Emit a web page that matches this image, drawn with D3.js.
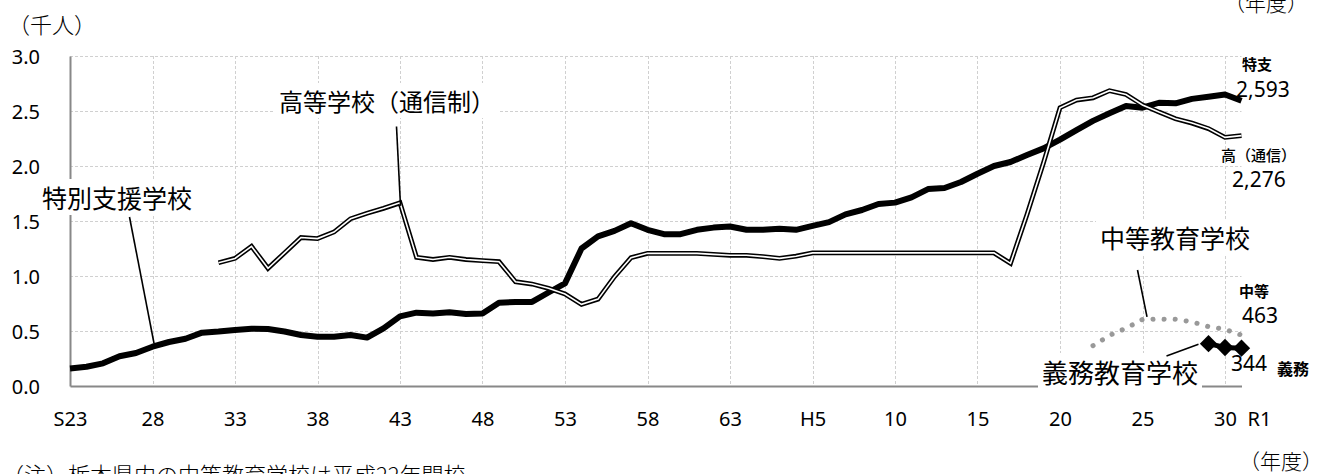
<!DOCTYPE html>
<html lang="ja">
<head>
<meta charset="utf-8">
<script src="https://cdn.jsdelivr.net/npm/d3@7/dist/d3.min.js"></script>
<style>
  html, body { margin: 0; padding: 0; background: #fff; }
  svg { display: block; }
  .num { font-family: "Noto Sans", "Open Sans", sans-serif; }
  .jp { font-family: "Noto Sans CJK JP", "Noto Sans", sans-serif; }
</style>
</head>
<body>
<svg id="chart" width="1326" height="474"></svg>
<script>
// ---------------- data ----------------
const fiscalYears = [1948,1949,1950,1951,1952,1953,1954,1955,1956,1957,1958,1959,1960,1961,1962,1963,1964,1965,1966,1967,1968,1969,1970,1971,1972,1973,1974,1975,1976,1977,1978,1979,1980,1981,1982,1983,1984,1985,1986,1987,1988,1989,1990,1991,1992,1993,1994,1995,1996,1997,1998,1999,2000,2001,2002,2003,2004,2005,2006,2007,2008,2009,2010,2011,2012,2013,2014,2015,2016,2017,2018,2019];

const xTickYears  = [1948,1953,1958,1963,1968,1973,1978,1983,1988,1993,1998,2003,2008,2013,2018,2019];
const xTickLabels = ["S23","28","33","38","43","48","53","58","63","H5","10","15","20","25","30","R1"];
const yTickValues = [0,0.5,1.0,1.5,2.0,2.5,3.0];
const yTickLabels = ["0.0","0.5","1.0","1.5","2.0","2.5","3.0"];

// 特別支援学校 (千人), S23(1948) - R1(2019)
const tokubetsuStart = 1948;
const tokubetsuValues = [0.16,0.175,0.206,0.27,0.30,0.357,0.40,0.43,0.485,0.495,0.51,0.52,0.518,0.495,0.464,0.448,0.448,0.464,0.44,0.524,0.633,0.667,0.66,0.67,0.655,0.66,0.757,0.764,0.764,0.85,0.933,1.25,1.36,1.41,1.48,1.42,1.38,1.38,1.42,1.44,1.45,1.42,1.42,1.43,1.42,1.455,1.49,1.56,1.60,1.655,1.667,1.715,1.79,1.80,1.855,1.93,2.00,2.036,2.10,2.16,2.24,2.327,2.41,2.48,2.545,2.53,2.575,2.57,2.61,2.63,2.65,2.593];

// 高等学校(通信制) (千人), S32(1957) - R1(2019)
const koukouStart = 1957;
const koukouValues = [1.12,1.16,1.27,1.07,1.21,1.35,1.34,1.40,1.52,1.57,1.615,1.665,1.17,1.15,1.17,1.15,1.14,1.13,0.948,0.927,0.888,0.836,0.742,0.79,0.994,1.167,1.206,1.206,1.206,1.206,1.197,1.188,1.188,1.176,1.16,1.18,1.21,1.21,1.21,1.21,1.21,1.21,1.21,1.21,1.21,1.21,1.21,1.21,1.115,1.56,2.03,2.53,2.60,2.62,2.685,2.65,2.555,2.49,2.43,2.39,2.34,2.26,2.276];

// 中等教育学校 (千人), H22(2010) - R1(2019)
const chutouStart = 2010;
const chutouValues = [0.366,0.46,0.525,0.605,0.607,0.606,0.583,0.54,0.515,0.463];

// 義務教育学校 (千人), H29(2017) - R1(2019)
const gimuStart = 2017;
const gimuValues = [0.385,0.35,0.344];

// ---------------- chart ----------------
const svg = d3.select("#chart");
const plotLeft = 70, plotRight = 1241.5, plotTop = 56, plotBottom = 386;

const x = d3.scaleLinear().domain([fiscalYears[0], fiscalYears[fiscalYears.length-1]]).range([plotLeft, plotRight]);
const y = d3.scaleLinear().domain([0, 3]).range([plotBottom, plotTop]);

const toPts = (start, vals) => vals.map((v, i) => ({year: fiscalYears[fiscalYears.indexOf(start) + i], value: v}));
const tokubetsu = toPts(tokubetsuStart, tokubetsuValues);
const koukou = toPts(koukouStart, koukouValues);
const chutou = toPts(chutouStart, chutouValues);
const gimu = toPts(gimuStart, gimuValues);

// gridlines
const grid = svg.append("g").attr("stroke", "#d0d0d0").attr("stroke-width", 1).attr("stroke-dasharray", "3,2");
grid.selectAll("line.h").data(yTickValues.filter(v => v > 0)).join("line").attr("class", "h")
  .attr("x1", plotLeft).attr("x2", plotRight)
  .attr("y1", d => Math.round(y(d)) + 0.5).attr("y2", d => Math.round(y(d)) + 0.5);
grid.selectAll("line.v").data(xTickYears.filter(v => v > 1948 && v < 2019)).join("line").attr("class", "v")
  .attr("x1", d => Math.round(x(d)) + 0.5).attr("x2", d => Math.round(x(d)) + 0.5)
  .attr("y1", plotTop).attr("y2", plotBottom);

// axes
const yAxis = d3.axisLeft(y).tickValues(yTickValues).tickFormat((d, i) => yTickLabels[i]).tickSize(0).tickSizeOuter(0).tickPadding(30);
const gy = svg.append("g").attr("transform", `translate(${plotLeft},0)`).call(yAxis);
gy.select(".domain").attr("stroke", "#888").attr("stroke-width", 2);
gy.selectAll("text").attr("class", "num").attr("font-size", 20).attr("fill", "#000").attr("dy", "0.36em");

const xAxis = d3.axisBottom(x).tickValues(xTickYears).tickFormat((d, i) => xTickLabels[i]).tickSize(0).tickSizeOuter(0);
const gx = svg.append("g").attr("transform", `translate(0,${plotBottom})`).call(xAxis);
gx.select(".domain").attr("stroke", "#888").attr("stroke-width", 2);
gx.selectAll("text").attr("class", "num").attr("font-size", 20).attr("fill", "#000")
  .attr("y", 33).attr("dy", "0.36em")
  .attr("dx", (d, i) => xTickLabels[i] === "R1" ? 17.5 : 0);

// lines
const line = d3.line().x(d => x(d.year)).y(d => y(d.value));

svg.append("path").datum(tokubetsu).attr("d", line)
  .attr("fill", "none").attr("stroke", "#000").attr("stroke-width", 6)
  .attr("stroke-linejoin", "round").attr("stroke-linecap", "butt");

svg.append("path").datum(chutou).attr("d", line)
  .attr("fill", "none").attr("stroke", "#999999").attr("stroke-width", 5)
  .attr("stroke-linecap", "round").attr("stroke-dasharray", "0.1,11");

svg.append("path").datum(gimu).attr("d", line)
  .attr("fill", "none").attr("stroke", "#000").attr("stroke-width", 5);
svg.selectAll("path.gimu").data(gimu).join("path").attr("class", "gimu")
  .attr("d", d3.symbol(d3.symbolSquare, 150))
  .attr("transform", d => `translate(${x(d.year)},${y(d.value)}) rotate(45)`)
  .attr("fill", "#000");

svg.append("path").datum(koukou).attr("d", line)
  .attr("fill", "none").attr("stroke", "#000").attr("stroke-width", 4.8).attr("stroke-linejoin", "miter");
svg.append("path").datum(koukou).attr("d", line)
  .attr("fill", "none").attr("stroke", "#fff").attr("stroke-width", 1.6).attr("stroke-linejoin", "miter");

// annotation labels with leader lines
function label(txt, tx, ty, size, x1, y1, x2, y2) {
  const g = svg.append("g");
  const t = g.append("text").attr("class", "jp").attr("x", tx).attr("y", ty)
    .attr("font-size", size).attr("fill", "#000").text(txt);
  const bb = t.node().getBBox();
  g.insert("rect", "text").attr("x", bb.x - 4).attr("y", bb.y).attr("width", bb.width + 8).attr("height", bb.height).attr("fill", "#fff");
  svg.append("line").attr("x1", x1).attr("y1", y1).attr("x2", x2).attr("y2", y2)
    .attr("stroke", "#000").attr("stroke-width", 1.6);
}
label("特別支援学校", 42, 208, 25, 129.5, 217, x(1953) + 1.5, y(tokubetsuValues[5]) - 3.5);
label("高等学校（通信制）", 279, 111, 24, 396.5, 126.5, x(1968) + 0.5, y(koukouValues[11]) + 3);
label("中等教育学校", 1100, 248, 25, 1137.5, 270, x(2013) + 4.5, y(chutouValues[3]) - 2.5);
label("義務教育学校", 1042, 383, 26, 1166.5, 356, x(2017) - 10, y(gimuValues[0]) + 0.5);

// end value labels
function txt(s, tx, ty, size, cls, weight, anchor) {
  svg.append("text").attr("class", cls).attr("x", tx).attr("y", ty).attr("font-size", size)
    .attr("font-weight", weight || 400).attr("text-anchor", anchor || "start").attr("fill", "#000").text(s);
}
txt("特支", 1242, 70, 15, "jp", 700);
txt("2,593", 1236, 97, 21, "num");
txt("高（通信）", 1221, 161, 15, "jp", 500);
txt("2,276", 1232, 187, 21, "num");
txt("中等", 1239, 297, 15, "jp", 700);
txt("463", 1242, 323, 21, "num");
txt("344", 1231, 371, 21, "num");
txt("義務", 1277, 375, 16, "jp", 700);

// unit and notes
txt("（千人）", 8, 33, 22, "jp", 300);
txt("（年度）", 1308, 11, 21, "jp", 300, "end");
txt("（年度）", 1323, 469, 21, "jp", 300, "end");
txt("（注）栃木県内の中等教育学校は平成22年開校", 2, 483, 22, "jp", 300);
</script>
</body>
</html>
